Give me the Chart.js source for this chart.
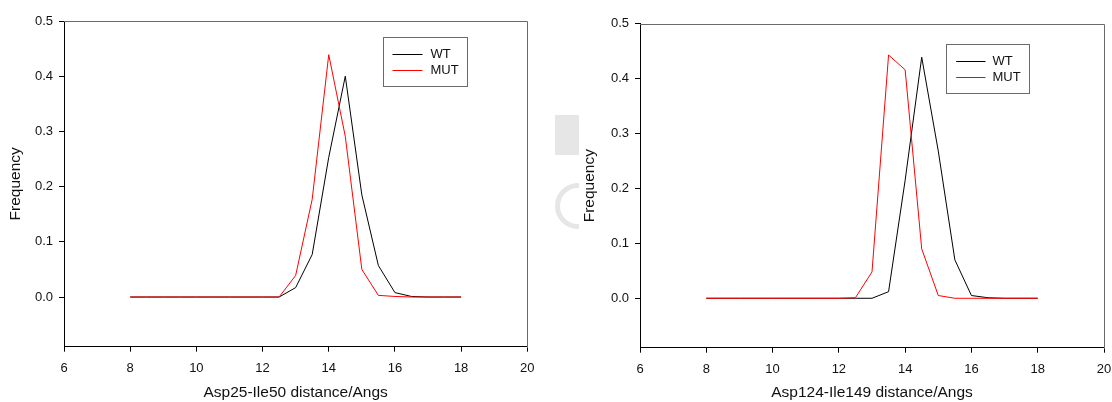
<!DOCTYPE html>
<html>
<head>
<meta charset="utf-8">
<script src="https://cdn.jsdelivr.net/npm/chart.js@4.4.1/dist/chart.umd.min.js"></script>
<style>
  html, body { margin: 0; padding: 0; background: #fff; }
  #wrap { position: relative; width: 1112px; height: 402px; overflow: hidden; }
  canvas { position: absolute; top: 0; }
  #c1 { left: 0; }
  #c2 { left: 556px; }
  .smudge { position: absolute; background: #e6e6e6; }
</style>
</head>
<body>
<div id="wrap">
  <div class="smudge" style="left:555px;top:115px;width:24px;height:40px"></div>
  <div style="position:absolute;left:555px;top:183px;width:24px;height:46px;overflow:hidden">
    <div style="position:absolute;left:0;top:0;width:36px;height:36px;border:5px solid #e6e6e6;border-radius:50%"></div>
  </div>
  <canvas id="c1" width="556" height="402"></canvas>
  <canvas id="c2" width="556" height="402"></canvas>
</div>
<script>
// Distance bins (Angstrom) shared by both histograms
const distances = [8, 8.5, 9, 9.5, 10, 10.5, 11, 11.5, 12, 12.5, 13, 13.5, 14, 14.5, 15, 15.5, 16, 16.5, 17, 17.5, 18];

// Asp25-Ile50 distance frequencies
const wtAsp25  = [0, 0, 0, 0, 0, 0, 0, 0, 0, 0, 0.017, 0.077, 0.253, 0.400, 0.185, 0.057, 0.008, 0.001, 0, 0, 0];
const mutAsp25 = [0, 0, 0, 0, 0, 0, 0, 0, 0, 0, 0.039, 0.177, 0.439, 0.291, 0.050, 0.003, 0.001, 0, 0, 0, 0];

// Asp124-Ile149 distance frequencies
const wtAsp124  = [0, 0, 0, 0, 0, 0, 0, 0, 0, 0, 0, 0.012, 0.215, 0.439, 0.268, 0.070, 0.005, 0.001, 0, 0, 0];
const mutAsp124 = [0, 0, 0, 0, 0, 0, 0, 0, 0, 0.001, 0.048, 0.443, 0.416, 0.090, 0.005, 0, 0, 0, 0, 0, 0];

const xTickValues = [6, 8, 10, 12, 14, 16, 18, 20];
const yTickValues = [0, 0.1, 0.2, 0.3, 0.4, 0.5];
const seriesNames = ['WT', 'MUT'];
const seriesColors = ['#000000', '#ff0000'];
const xTitles = ['Asp25-Ile50 distance/Angs', 'Asp124-Ile149 distance/Angs'];
const yTitle = 'Frequency';

Chart.defaults.font.family = "'Liberation Sans', Arial, sans-serif";
Chart.defaults.color = '#000';

const toPoints = vals => distances.map((d, i) => ({ x: d, y: vals[i] }));

// Gray top/right edges of the plot box
const framePlugin = {
  id: 'frame',
  beforeDatasetsDraw(chart) {
    const { left, right, top, bottom } = chart.chartArea;
    const ctx = chart.ctx;
    ctx.save();
    ctx.strokeStyle = '#6a6a6a';
    ctx.lineWidth = 1;
    const t = Math.round(top) + 0.5, r = Math.round(right) + 0.5;
    ctx.beginPath();
    ctx.moveTo(Math.round(left), t);
    ctx.lineTo(r, t);
    ctx.lineTo(r, Math.round(bottom) + 1);
    ctx.stroke();
    ctx.restore();
  }
};

// Boxed legend inside the plot area
const boxLegendPlugin = {
  id: 'boxLegend',
  afterDatasetsDraw(chart, args, opts) {
    const ctx = chart.ctx;
    const area = chart.chartArea;
    const x0 = Math.round(area.right - opts.right - opts.width) + 0.5;
    const y0 = Math.round(area.top + opts.top) + 0.5;
    ctx.save();
    ctx.fillStyle = '#fff';
    ctx.fillRect(x0, y0, opts.width, opts.height);
    ctx.strokeStyle = '#6a6a6a';
    ctx.lineWidth = 1;
    ctx.strokeRect(x0, y0, Math.round(opts.width), Math.round(opts.height));
    ctx.font = "13px 'Liberation Sans', Arial, sans-serif";
    ctx.textBaseline = 'middle';
    chart.data.datasets.forEach((ds, i) => {
      const y = Math.round(y0 + opts.rowTop + i * opts.rowGap) + 0.5;
      ctx.beginPath();
      ctx.strokeStyle = seriesColors[i];
      ctx.lineWidth = 1;
      ctx.moveTo(x0 + opts.lineInset, y);
      ctx.lineTo(x0 + opts.lineInset + opts.lineLen, y);
      ctx.stroke();
      ctx.fillStyle = '#111';
      ctx.fillText(ds.label, x0 + opts.lineInset + opts.lineLen + opts.textGap, y);
    });
    ctx.restore();
  }
};

function makeChart(id, wt, mut, xTitle, lay) {
  return new Chart(document.getElementById(id), {
    type: 'line',
    data: {
      datasets: [
        { label: seriesNames[0], data: toPoints(wt), borderColor: seriesColors[0], order: 1 },
        { label: seriesNames[1], data: toPoints(mut), borderColor: seriesColors[1], order: 0 }
      ]
    },
    options: {
      responsive: false,
      animation: false,
      devicePixelRatio: 1,
      events: [],
      layout: { padding: { left: 0, right: lay.padRight, top: lay.padTop, bottom: 0 } },
      elements: {
        line: { borderWidth: 1, tension: 0, fill: false },
        point: { radius: 0 }
      },
      scales: {
        x: {
          type: 'linear',
          min: 6, max: 20,
          afterBuildTicks: s => { s.ticks = xTickValues.map(v => ({ value: v })); },
          afterFit: s => { s.height = lay.xHeight; s.paddingLeft = 0; s.paddingRight = 0; },
          grid: { drawOnChartArea: false, drawTicks: true, tickLength: 5, color: '#000' },
          border: { display: true, color: '#000', width: 1 },
          ticks: { padding: 9, font: { size: 13 }, color: '#111', maxRotation: 0, autoSkip: false,
                   callback: v => String(v) },
          title: { display: true, text: xTitle, font: { size: 15.5 }, color: '#111',
                   padding: { top: 0, bottom: lay.xTitlePad } }
        },
        y: {
          type: 'linear',
          min: -0.09, max: 0.5,
          afterBuildTicks: s => { s.ticks = yTickValues.map(v => ({ value: v })); },
          afterFit: s => { s.width = lay.yWidth; s.paddingTop = 0; s.paddingBottom = 0; },
          grid: { drawOnChartArea: false, drawTicks: true, tickLength: 5, color: '#000' },
          border: { display: true, color: '#000', width: 1 },
          ticks: { padding: 6, font: { size: 13 }, color: '#111', autoSkip: false,
                   callback: v => Number(v).toFixed(1) },
          title: { display: true, text: yTitle, font: { size: 15.5 }, color: '#111',
                   padding: { top: lay.yTitlePad, bottom: 0 } }
        }
      },
      plugins: {
        legend: { display: false },
        tooltip: { enabled: false },
        boxLegend: lay.legend
      }
    },
    plugins: [framePlugin, boxLegendPlugin]
  });
}

makeChart('c1', wtAsp25, mutAsp25, xTitles[0], {
  padRight: 28.7, padTop: 21, xHeight: 55.3, yWidth: 64, yTitlePad: 6.7, xTitlePad: 0,
  legend: { right: 60.6, top: 15.7, width: 84, height: 48.6, rowTop: 16.3, rowGap: 16, lineInset: 9, lineLen: 30, textGap: 8 }
});

makeChart('c2', wtAsp124, mutAsp124, xTitles[1], {
  padRight: 8, padTop: 23.7, xHeight: 54.3, yWidth: 84, yTitlePad: 24.7, xTitlePad: 0,
  legend: { right: 74.7, top: 20.6, width: 83, height: 48.7, rowTop: 16.4, rowGap: 16, lineInset: 9.7, lineLen: 29.3, textGap: 7 }
});
</script>
</body>
</html>
